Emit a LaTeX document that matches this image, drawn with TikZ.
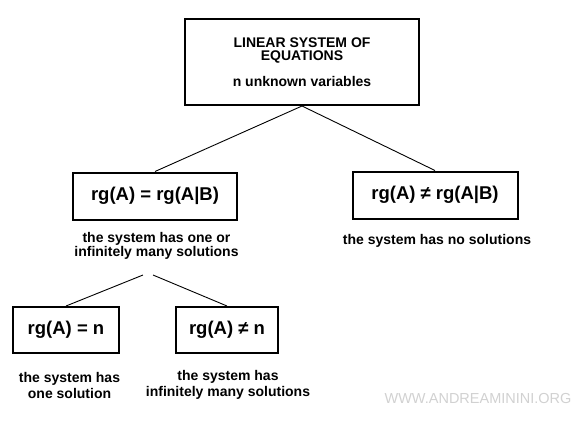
\documentclass[tikz,border=0pt]{standalone}
\usepackage{fontspec}
\setmainfont{Liberation Sans}
\begin{document}
\begin{tikzpicture}[x=1pt,y=-1pt,
  bigbox/.style={draw=black,line width=2pt,inner sep=0pt,font=\bfseries\fontsize{18.5}{22}\selectfont},
  lbl/.style={align=center,inner sep=0pt,font=\bfseries\fontsize{14}{13}\selectfont},
  lbl2/.style={align=center,inner sep=0pt,font=\bfseries\fontsize{14}{16}\selectfont},
  conn/.style={draw=black,line width=0.9pt}]
\useasboundingbox (0,0) rectangle (588,421);
\node[draw=black,line width=2pt,minimum width=234pt,minimum height=86pt,inner sep=0pt,align=center,
  font=\bfseries\fontsize{14}{13.3}\selectfont] (top) at (302,62)
  {LINEAR SYSTEM OF\\EQUATIONS\\[12.5pt]n unknown variables};
\node[bigbox,minimum width=164pt,minimum height=47pt] (lb) at (155,196) {rg(A) = rg(A|B)};
\node[bigbox,minimum width=165pt,minimum height=47pt] (rb) at (435,195) {rg(A) ≠ rg(A|B)};
\node[bigbox,minimum width=106pt,minimum height=46pt] (bl) at (66,330) {rg(A) = n};
\node[bigbox,minimum width=102pt,minimum height=46pt] (br) at (227,330) {rg(A) ≠ n};
\node[lbl] (ll) at (156.5,246) {the system has one or\\infinitely many solutions};
\node[lbl] (rl) at (437,240.5) {the system has no solutions};
\node[lbl2] (bll) at (69.5,385) {the system has\\one solution};
\node[lbl2] (brl) at (228,385) {the system has\\infinitely many solutions};
\node[inner sep=0pt,text=black!18,font=\fontsize{14.5}{16}\selectfont] (wm) at (478,398) {WWW.ANDREAMININI.ORG};
\coordinate (c1) at (143,275);
\coordinate (c2) at (153,275);
\draw[conn] (top.south) -- (lb.north);
\draw[conn] (top.south) -- (rb.north);
\draw[conn] (c1) -- (bl.north);
\draw[conn] (c2) -- (br.north);
\end{tikzpicture}
\end{document}
